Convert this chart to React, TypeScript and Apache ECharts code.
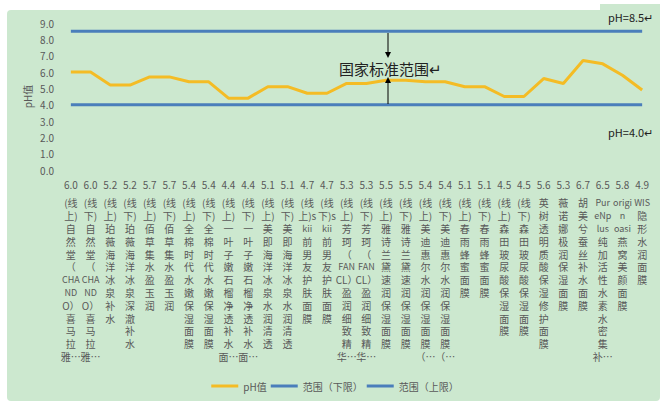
import React, { useEffect, useRef } from "react";
import * as echarts from "echarts";

const categories = [
  "(线\n上)\n自\n然\n堂\n（\nCHA\nND\nO）\n喜\n马\n拉\n雅…",
  "(线\n下)\n自\n然\n堂\n（\nCHA\nND\nO）\n喜\n马\n拉\n雅…",
  "(线\n上)\n珀\n薇\n海\n洋\n冰\n泉\n补\n水",
  "(线\n下)\n珀\n薇\n海\n洋\n冰\n泉\n深\n澈\n补\n水",
  "(线\n上)\n佰\n草\n集\n水\n盈\n玉\n润",
  "(线\n下)\n佰\n草\n集\n水\n盈\n玉\n润",
  "(线\n上)\n全\n棉\n时\n代\n水\n嫩\n保\n湿\n面\n膜",
  "(线\n下)\n全\n棉\n时\n代\n水\n嫩\n保\n湿\n面\n膜",
  "(线\n上)\n一\n叶\n子\n嫩\n石\n榴\n净\n透\n补\n水\n面…",
  "(线\n下)\n一\n叶\n子\n嫩\n石\n榴\n净\n透\n补\n水\n面…",
  "(线\n上)\n美\n即\n海\n洋\n冰\n泉\n水\n润\n清\n透",
  "(线\n下)\n美\n即\n海\n洋\n冰\n泉\n水\n润\n清\n透",
  "(线\n上)s\nkii\n前\n男\n友\n护\n肤\n面\n膜",
  "(线\n下)s\nkii\n前\n男\n友\n护\n肤\n面\n膜",
  "(线\n上)\n芳\n珂\n（\nFAN\nCL）\n盈\n润\n细\n致\n精\n华…",
  "(线\n下)\n芳\n珂\n（\nFAN\nCL）\n盈\n润\n细\n致\n精\n华…",
  "(线\n上)\n雅\n诗\n兰\n黛\n速\n润\n保\n湿\n面\n膜",
  "(线\n下)\n雅\n诗\n兰\n黛\n速\n润\n保\n湿\n面\n膜",
  "(线\n上)\n美\n迪\n惠\n尔\n水\n润\n保\n湿\n面\n膜\n（…",
  "(线\n下)\n美\n迪\n惠\n尔\n水\n润\n保\n湿\n面\n膜\n（…",
  "(线\n上)\n春\n雨\n蜂\n蜜\n面\n膜",
  "(线\n下)\n春\n雨\n蜂\n蜜\n面\n膜",
  "(线\n上)\n森\n田\n玻\n尿\n酸\n保\n湿\n面\n膜",
  "(线\n下)\n森\n田\n玻\n尿\n酸\n保\n湿\n面\n膜",
  "英\n树\n透\n明\n质\n酸\n保\n湿\n修\n护\n面\n膜",
  "薇\n诺\n娜\n极\n润\n保\n湿\n面\n膜",
  "胡\n美\n兮\n蚕\n丝\n补\n水\n面\n膜",
  "Pur\neNp\nlus\n纯\n加\n活\n性\n水\n素\n水\n密\n集\n补…",
  "origi\nn\noasi\n燕\n窝\n美\n颜\n面\n膜",
  "WIS\n隐\n形\n水\n润\n面\n膜",
];

const phValues = [
  6.0, 6.0, 5.2, 5.2, 5.7, 5.7, 5.4, 5.4, 4.4, 4.4, 5.1, 5.1, 4.7, 4.7, 5.3,
  5.3, 5.5, 5.5, 5.4, 5.4, 5.1, 5.1, 4.5, 4.5, 5.6, 5.3, 6.7, 6.5, 5.8, 4.9,
];

const lowerLimit = [
  4.0, 4.0, 4.0, 4.0, 4.0, 4.0, 4.0, 4.0, 4.0, 4.0, 4.0, 4.0, 4.0, 4.0, 4.0,
  4.0, 4.0, 4.0, 4.0, 4.0, 4.0, 4.0, 4.0, 4.0, 4.0, 4.0, 4.0, 4.0, 4.0, 4.0,
];

const upperLimit = [
  8.5, 8.5, 8.5, 8.5, 8.5, 8.5, 8.5, 8.5, 8.5, 8.5, 8.5, 8.5, 8.5, 8.5, 8.5,
  8.5, 8.5, 8.5, 8.5, 8.5, 8.5, 8.5, 8.5, 8.5, 8.5, 8.5, 8.5, 8.5, 8.5, 8.5,
];

const seriesNames = ["pH值", "范围（下限）", "范围（上限）"];
const yAxisName = "pH值";
const annotationText = "国家标准范围";
const upperText = "pH=8.5";
const lowerText = "pH=4.0";

const FONT = "'Noto Sans CJK SC', 'Noto Sans', sans-serif";
const GOLD = "#F4BC25";
const BLUE = "#4A7EBB";
const BG = "#CCE8CF";
const LABEL = "#595959";

export default function App() {
  const ref = useRef<HTMLDivElement>(null);
  useEffect(() => {
    document.body.style.margin = "0";
    if (!ref.current) return;
    const chart = echarts.init(ref.current, null, { renderer: "svg" });
    chart.setOption({
      animation: false,
      backgroundColor: "#ffffff",
      textStyle: { fontFamily: FONT },
      grid: { left: 61, right: 18, top: 23, bottom: 241 },
      legend: {
        left: "center",
        top: 376,
        itemWidth: 27,
        itemHeight: 3,
        itemGap: 4,
        icon: "rect",
        textStyle: { fontSize: 10, color: LABEL, fontFamily: FONT },
        data: seriesNames,
      },
      xAxis: {
        type: "category",
        data: categories,
        boundaryGap: true,
        axisLine: { show: false },
        axisTick: { show: false },
        axisLabel: {
          interval: 0,
          margin: 8,
          color: LABEL,
          fontFamily: FONT,
          formatter: (value: string, index: number) => {
            const lines = value
              .split("\n")
              .map((l) => (/[\u3000-\u9fff\uff00-\uffef]/.test(l) ? `{n|${l}}` : `{l|${l}}`));
            return `{v|${phValues[index].toFixed(1)}}\n{s| }\n` + lines.join("\n");
          },
          rich: {
            v: { fontSize: 10, lineHeight: 12, color: LABEL, fontFamily: FONT, align: "center" },
            s: { fontSize: 4, lineHeight: 6.5 },
            n: { fontSize: 10, lineHeight: 12.8, color: LABEL, fontFamily: FONT, align: "center" },
            l: { fontSize: 9, lineHeight: 12.8, color: LABEL, fontFamily: FONT, align: "center" },
          },
        },
      },
      yAxis: {
        type: "value",
        min: 0,
        max: 9,
        interval: 1,
        name: yAxisName,
        nameLocation: "middle",
        nameGap: 29,
        nameMoveOverlap: false,
        nameRotate: 90,
        nameTextStyle: { fontSize: 10, color: LABEL, fontFamily: FONT },
        axisLine: { show: false },
        axisTick: { show: false },
        splitLine: { show: false },
        axisLabel: {
          margin: 7,
          fontSize: 10,
          color: LABEL,
          fontFamily: FONT,
          formatter: (v: number) => v.toFixed(1),
        },
      },
      series: [
        {
          name: seriesNames[0],
          type: "line",
          data: phValues,
          showSymbol: false,
          lineStyle: { color: GOLD, width: 3 },
          itemStyle: { color: GOLD },
          z: 3,
        },
        {
          name: seriesNames[1],
          type: "line",
          data: lowerLimit,
          showSymbol: false,
          lineStyle: { color: BLUE, width: 3 },
          itemStyle: { color: BLUE },
        },
        {
          name: seriesNames[2],
          type: "line",
          data: upperLimit,
          showSymbol: false,
          lineStyle: { color: BLUE, width: 3 },
          itemStyle: { color: BLUE },
        },
      ],
      graphic: [
        {
          type: "rect",
          z: -100,
          silent: true,
          shape: { x: 7, y: 10, width: 653, height: 391, r: 4 },
          style: { fill: BG },
        },
        {
          type: "rect",
          z: -99,
          silent: true,
          shape: { x: 600, y: 4, width: 60, height: 30 },
          style: { fill: BG },
        },
        {
          type: "line",
          z: 10,
          shape: { x1: 388, y1: 33, x2: 388, y2: 53 },
          style: { stroke: "#000", lineWidth: 1 },
        },
        {
          type: "polygon",
          z: 10,
          shape: { points: [[385, 52], [391, 52], [388, 58]] },
          style: { fill: "#000" },
        },
        {
          type: "line",
          z: 10,
          shape: { x1: 388, y1: 104, x2: 388, y2: 82 },
          style: { stroke: "#000", lineWidth: 1 },
        },
        {
          type: "polygon",
          z: 10,
          shape: { points: [[385, 83], [391, 83], [388, 77]] },
          style: { fill: "#000" },
        },
        {
          type: "text",
          z: 10,
          x: 339,
          y: 68,
          style: {
            text: annotationText + "↵",
            font: `15px ${FONT}`,
            fill: "#222",
            verticalAlign: "middle",
          },
        },
        {
          type: "text",
          z: 10,
          x: 608,
          y: 17,
          style: {
            text: upperText + "↵",
            font: `11px ${FONT}`,
            fill: "#222",
            verticalAlign: "middle",
          },
        },
        {
          type: "text",
          z: 10,
          x: 608,
          y: 132,
          style: {
            text: lowerText + "↵",
            font: `11px ${FONT}`,
            fill: "#222",
            verticalAlign: "middle",
          },
        },
      ],
    });
    return () => chart.dispose();
  }, []);
  return <div ref={ref} style={{ width: 670, height: 411 }} />;
}
